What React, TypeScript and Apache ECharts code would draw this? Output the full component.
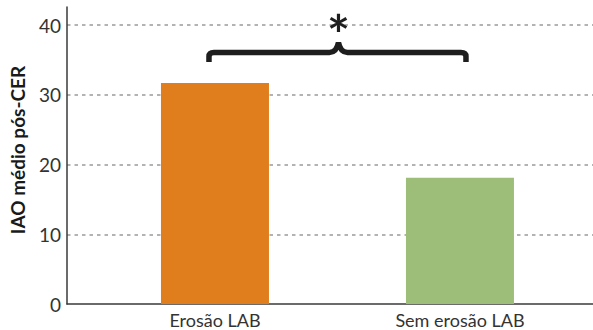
import React, { useEffect, useRef } from "react";
import * as echarts from "echarts";

// Mean IAO after CER for each group
const categories = ["Erosão LAB", "Sem erosão LAB"];
const meanIAO = [31.7, 18.1];
const barColors = ["#E07E1E", "#9DBE78"];
const yTicks = [0, 10, 20, 30, 40];
const yAxisTitle = "IAO médio pós-CER";
const significanceMark = "*";

const FONT = "Lato, 'Open Sans', sans-serif";

export default function App() {
  const ref = useRef<HTMLDivElement>(null);

  useEffect(() => {
    if (!ref.current) return;
    const chart = echarts.init(ref.current, null, { renderer: "svg" });

    const option: any = {
      animation: false,
      grid: {
        left: 67,
        right: 0,
        top: 7,
        bottom: 26,
        containLabel: false,
        outerBoundsMode: "none",
      },
      xAxis: {
        type: "value",
        min: -0.604,
        max: 1.543,
        splitLine: { show: false },
        axisTick: { show: false },
        axisLine: { show: true, onZero: false, lineStyle: { color: "#3a3a3a", width: 1.5 } },
        axisLabel: {
          customValues: categories.map((_, i) => i),
          formatter: (v: number) => categories[Math.round(v)] ?? "",
          color: "#333",
          fontFamily: FONT,
          fontSize: 18,
          margin: 7,
        },
      },
      yAxis: {
        type: "value",
        min: yTicks[0],
        max: 42.6,
        interval: yTicks[1] - yTicks[0],
        axisLine: { show: true, onZero: false, lineStyle: { color: "#3a3a3a", width: 1.5 } },
        axisTick: { show: false },
        axisLabel: {
          showMaxLabel: false,
          color: "#333",
          fontFamily: FONT,
          fontSize: 19,
          margin: 6,
          formatter: (v: number) => (yTicks.includes(v) ? String(v) : ""),
        },
        splitLine: {
          show: true,
          showMinLine: false,
          showMaxLine: false,
          lineStyle: { color: "#9a9a9a", width: 1.5, type: [3.5, 4] },
        },
      },
      series: [
        {
          type: "bar",
          barWidth: 108,
          data: meanIAO.map((v, i) => ({
            value: [i, v],
            itemStyle: { color: barColors[i] },
          })),
        },
      ],
    };
    chart.setOption(option);

    // Brace linking the two bars, with the significance mark above it
    const p0 = chart.convertToPixel({ gridIndex: 0 }, [0, meanIAO[0]]) as number[];
    const p1 = chart.convertToPixel({ gridIndex: 0 }, [1, meanIAO[1]]) as number[];
    const L = p0[0] - 6;
    const R = p1[0] + 6;
    const M = (p0[0] + p1[0]) / 2 + 1;
    const yH = 52.5;
    const yB = 62;
    const yP = 42.5;
    const d =
      `M${L} ${yB} L${L} ${yH + 4} Q${L} ${yH} ${L + 5} ${yH} ` +
      `L${M - 9} ${yH} Q${M - 2} ${yH} ${M} ${yP} ` +
      `Q${M + 2} ${yH} ${M + 9} ${yH} L${R - 5} ${yH} ` +
      `Q${R} ${yH} ${R} ${yH + 4} L${R} ${yB}`;
    echarts.graphic.registerShape("brace", echarts.graphic.extendPath(d, {}) as any);

    chart.setOption({
      graphic: [
        {
          type: "brace",
          x: 0,
          y: 0,
          style: {
            fill: "none",
            stroke: "#1e1e1e",
            lineWidth: 5.5,
            lineCap: "butt",
            lineJoin: "miter",
          },
        },
        {
          type: "text",
          x: M,
          y: 33,
          style: {
            text: significanceMark,
            fill: "#1e1e1e",
            font: `bold 54px ${FONT}`,
            align: "center",
            verticalAlign: "middle",
          },
        },
        {
          type: "text",
          x: 17.5,
          y: 150,
          rotation: Math.PI / 2,
          style: {
            text: yAxisTitle,
            fill: "#1a1a1a",
            font: `bold 19px ${FONT}`,
            align: "center",
            verticalAlign: "middle",
          },
        },
      ],
    });

    return () => chart.dispose();
  }, []);

  return (
    <div
      ref={ref}
      style={{ position: "absolute", left: 0, top: 0, width: 593, height: 330 }}
    />
  );
}
